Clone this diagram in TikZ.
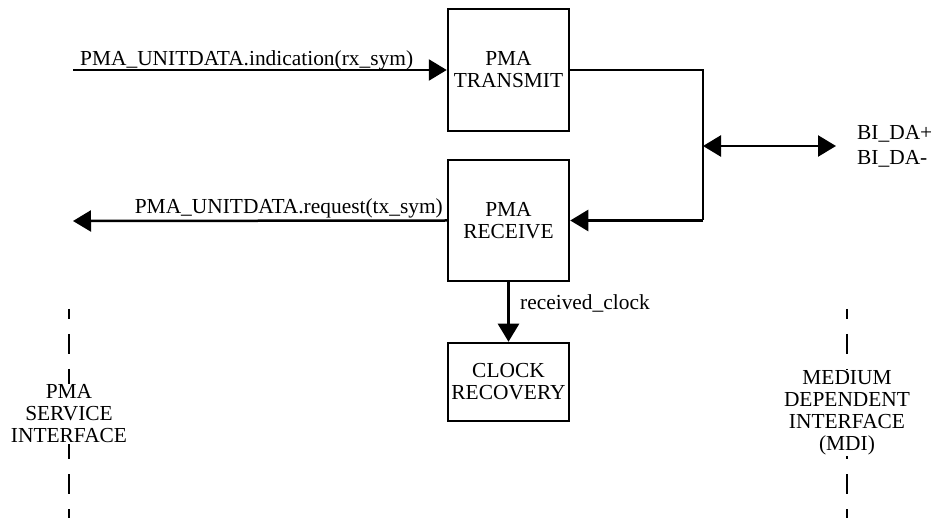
\documentclass[tikz,border=0pt]{standalone}
\usepackage{fontspec}
\setmainfont{Liberation Serif}
\usetikzlibrary{arrows.meta}
\begin{document}
\begin{tikzpicture}[x=1pt,y=-1pt,
  font=\fontsize{21.4}{22}\selectfont,
  wire/.style={line width=2.5pt},
  arr/.style={wire,-{Triangle[length=18pt,width=21pt]}},
  darr/.style={wire,{Triangle[length=18pt,width=21pt]}-{Triangle[length=18pt,width=21pt]}},
  block/.style={draw,line width=2.5pt,minimum width=121pt,align=center,inner sep=0pt},
  iface/.style={line width=2.5pt,dash pattern=on 20pt off 15pt,dash phase=10pt},
  ifacelabel/.style={fill=white,align=center,inner sep=1pt}]
\useasboundingbox (0,0) rectangle (932,518);

% functional blocks
\node[block,minimum height=122pt] (tx)  at (508.5,70)  {PMA\\TRANSMIT};
\node[block,minimum height=121pt] (rx)  at (508.5,220.5) {PMA\\RECEIVE};
\node[block,minimum height=78pt]  (clk) at (508.5,382) {CLOCK\\RECOVERY};

% interface boundaries
\coordinate (pmaTop) at (69,309);
\coordinate (pmaBot) at (69,518);
\coordinate (mdiTop) at (847,309);
\coordinate (mdiBot) at (847,518);
\draw[iface] (pmaTop) -- (pmaBot);
\draw[iface] (mdiTop) -- (mdiBot);
\node[ifacelabel] (pmaLbl) at (69,414) {PMA\\SERVICE\\INTERFACE};
\node[ifacelabel] (mdiLbl) at (847,413) {MEDIUM\\DEPENDENT\\INTERFACE\\(MDI)};

% service primitives
\coordinate (indIn) at (73,70);
\coordinate (reqOut) at (73,221);
\draw[arr] (indIn) -- (tx.west);
\draw[arr] (rx.west) -- (reqOut);
\node[anchor=base west,inner sep=0pt] (indLbl) at (80,66) {PMA\_UNITDATA.indication(rx\_sym)};
\node[anchor=base east,inner sep=0pt] (reqLbl) at (443,214) {PMA\_UNITDATA.request(tx\_sym)};

% medium side
\coordinate (bus) at (703,146);
\coordinate (mdi) at (836,146);
\draw[wire] (tx.east) -- (703,70) -- (703,220.5);
\draw[arr] (703,220.5) -- (rx.east);
\draw[darr] (bus) -- (mdi);
\node[anchor=base west,inner sep=0pt] (dap) at (857,140) {BI\_DA+};
\node[anchor=base west,inner sep=0pt] (dam) at (857,165) {BI\_DA-};

% recovered clock
\draw[arr] (rx.south) -- (clk.north);
\node[anchor=base west,inner sep=0pt] (clkLbl) at (520,310) {received\_clock};
\end{tikzpicture}
\end{document}
